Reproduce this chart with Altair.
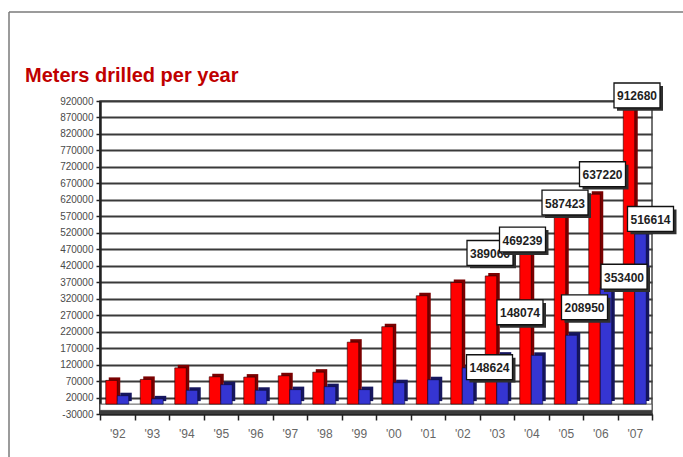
import altair as alt
import pandas as pd

# ---- data -------------------------------------------------------------
YEARS = ["'92", "'93", "'94", "'95", "'96", "'97", "'98", "'99",
         "'00", "'01", "'02", "'03", "'04", "'05", "'06", "'07"]

RED_VALUES = [72000, 75000, 110000, 83000, 82000, 86000, 97000, 188000,
              235000, 329000, 369000, 389066, 469239, 587423, 637220, 912680]

BLUE_VALUES = [25500, 16000, 42000, 59000, 42000, 44000, 53000, 44000,
               65000, 74000, 110000, 148624, 148074, 208950, 353400, 516614]

# years whose bars carry a value callout
LABELLED_YEARS = ["'03", "'04", "'05", "'06", "'07"]

Y_TICKS = [-30000, 20000, 70000, 120000, 170000, 220000, 270000, 320000,
           370000, 420000, 470000, 520000, 570000, 620000, 670000, 720000,
           770000, 820000, 870000, 920000]

TITLE = "Meters drilled per year"

# ---- layout / style ---------------------------------------------------
WIDTH, HEIGHT = 552, 313
BAR_W = 11.5          # front face width of a single bar
DEPTH = 3             # pseudo-3D depth of the bar side/top faces
FONT = "Liberation Sans"

RED, RED_DARK = "#ff0000", "#7a0000"
BLUE, BLUE_DARK = "#3535d2", "#16165e"

# callout nudges (px) relative to the top centre of the bar they describe
RED_NUDGE = {"'03": (-1, -23), "'04": (-3, -10), "'05": (5, -8),
             "'06": (8, -20), "'07": (8, -8)}
BLUE_NUDGE = {"'03": (-13, 12), "'04": (-17, -43), "'05": (13, -28),
              "'06": (18, -11), "'07": (10, -15)}

red_df = pd.DataFrame({"year": YEARS, "value": RED_VALUES})
blue_df = pd.DataFrame({"year": YEARS, "value": BLUE_VALUES})
one_row = pd.DataFrame({"k": [0]})

x_enc = alt.X(
    "year:N", sort=YEARS,
    scale=alt.Scale(domain=YEARS, paddingInner=0, paddingOuter=0),
    axis=alt.Axis(title=None, labelAngle=0, tickBand="extent",
                  labelFont=FONT, labelFontSize=12, labelColor="#666666",
                  labelPadding=8, tickSize=6, tickColor="#222222",
                  tickWidth=1.5, domainColor="#222222", domainWidth=2),
)
y_scale = alt.Scale(domain=[-30000, 920000], nice=False, zero=False)
# plain ASCII hyphen for negative tick labels
y_label_expr = ("datum.value < 0 ? '-' + format(-datum.value, 'd') "
                ": format(datum.value, 'd')")
y_axis = alt.Axis(title=None, values=Y_TICKS, labelExpr=y_label_expr,
                  labelOverlap=False,
                  labelFont=FONT, labelFontSize=10, labelColor="#4a4a4a",
                  labelPadding=3, tickSize=4, tickColor="#222222",
                  tickWidth=1.5, domainColor="#222222", domainWidth=2.5,
                  grid=True, gridColor="#3a3a3a", gridWidth=2.2)
y_enc = alt.Y("value:Q", scale=y_scale, axis=y_axis)
y0 = alt.Y2(datum=0)

# ---- floor of the 3D plot ---------------------------------------------
floor_top = alt.Chart(one_row).mark_rect(
    fill="white", stroke="#555555", strokeWidth=1
).encode(
    x=alt.value(0), x2=alt.value(WIDTH),
    y=alt.Y(datum=0, type="quantitative", scale=y_scale, axis=y_axis),
    y2=alt.Y2(datum=-19000),
)
floor_front = alt.Chart(one_row).mark_rect(fill="#3b3b3b").encode(
    x=alt.value(0), x2=alt.value(WIDTH),
    y=alt.Y(datum=-19000, type="quantitative", scale=y_scale, axis=y_axis),
    y2=alt.Y2(datum=-30000),
)


def bars(df, dx, front, dark):
    side = alt.Chart(df).mark_bar(
        width=BAR_W, xOffset=dx + DEPTH, yOffset=-DEPTH, y2Offset=-DEPTH,
        color=dark,
    ).encode(x=x_enc, y=y_enc, y2=y0)
    face = alt.Chart(df).mark_bar(
        width=BAR_W, xOffset=dx, color=front,
        stroke="#220000" if front == RED else "#0a0a30", strokeWidth=0.6,
    ).encode(x=x_enc, y=y_enc, y2=y0)
    return [side, face]


BOX_PATH = "M-1,-0.54H1V0.54H-1Z"
BOX_SIZE = 46 * 46


def callouts(df, dx, nudges):
    layers = []
    for yr in LABELLED_YEARS:
        ndx, ndy = nudges[yr]
        sub = df[df["year"] == yr]
        base = alt.Chart(sub).encode(x=x_enc, y=y_enc)
        layers.append(base.mark_point(
            shape=BOX_PATH, size=BOX_SIZE, filled=True, fill="#2e2e2e",
            opacity=1, strokeWidth=0,
            xOffset=dx + ndx + 3, yOffset=ndy + 3))
        layers.append(base.mark_point(
            shape=BOX_PATH, size=BOX_SIZE, filled=True, fill="white",
            stroke="#111111", strokeWidth=1.3, opacity=1,
            xOffset=dx + ndx, yOffset=ndy))
        layers.append(base.mark_text(
            font=FONT, fontSize=12, fontWeight="bold", color="#1e1e1e",
            align="center", baseline="middle", dx=dx + ndx, dy=ndy + 1,
        ).encode(text=alt.Text("value:Q", format="d")))
    return layers


# ---- outer frame and heading ------------------------------------------
frame_top = alt.Chart(one_row).mark_rule(color="#7a7a7a", strokeWidth=1.5).encode(
    x=alt.value(-91), x2=alt.value(WIDTH + 40), y=alt.value(-89))
frame_left = alt.Chart(one_row).mark_rule(color="#7a7a7a", strokeWidth=1.5).encode(
    x=alt.value(-91), y=alt.value(-89), y2=alt.value(HEIGHT + 60))
heading = alt.Chart(one_row).mark_text(
    text=TITLE, font=FONT, fontSize=20, fontWeight="bold", color="#c00000",
    align="left", baseline="alphabetic",
).encode(x=alt.value(-75), y=alt.value(-19))

layers = [floor_top, floor_front]
layers += bars(red_df, -BAR_W / 2, RED, RED_DARK)
layers += bars(blue_df, BAR_W / 2, BLUE, BLUE_DARK)
layers += callouts(red_df, -BAR_W / 2, RED_NUDGE)
layers += callouts(blue_df, BAR_W / 2, BLUE_NUDGE)
layers += [frame_top, frame_left, heading]

chart = alt.layer(*layers).properties(
    width=WIDTH, height=HEIGHT,
    padding={"left": 100, "top": 101, "right": 31, "bottom": 43},
    autosize=alt.AutoSizeParams(type="none"),
    background="white",
).configure_view(stroke="#444444", strokeWidth=1.5)

chart.save("out.html", embed_options={"renderer": "svg", "actions": False})
